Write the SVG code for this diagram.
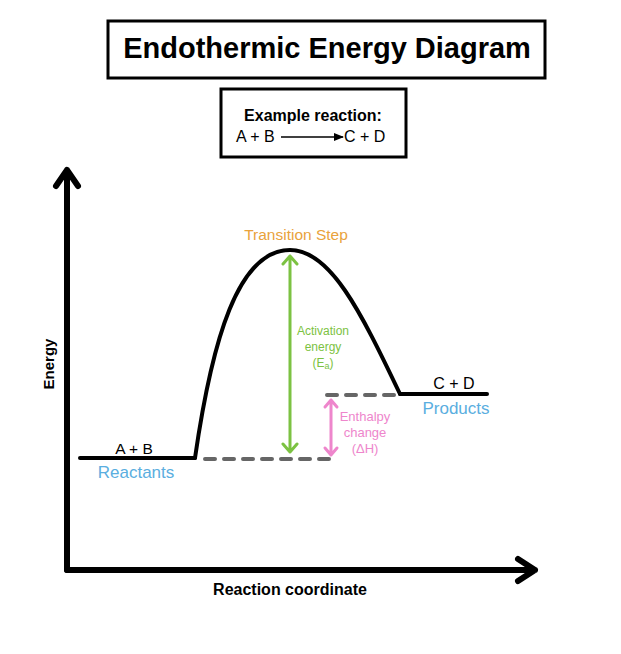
<svg xmlns="http://www.w3.org/2000/svg" width="621" height="654" viewBox="0 0 621 654">
<defs>
<style>
text{font-family:"Liberation Sans",Arial,sans-serif;}
.box{fill:#fff;stroke:#000;stroke-width:3;}
.axis{fill:none;stroke:#000;stroke-width:6;stroke-linecap:round;stroke-linejoin:round;}
.curve{fill:none;stroke:#000;stroke-width:4;stroke-linecap:round;stroke-linejoin:round;}
.dash{fill:none;stroke:#666;stroke-width:4;stroke-linecap:round;stroke-dasharray:10 9;}
.green{stroke:#7cc242;fill:none;stroke-width:3;stroke-linecap:round;stroke-linejoin:round;}
.pink{stroke:#ee86cc;fill:none;stroke-width:3;stroke-linecap:round;stroke-linejoin:round;}
</style>
<marker id="arrowSmall" viewBox="0 0 10 10" refX="9" refY="5" markerWidth="7" markerHeight="7" orient="auto"><path d="M0,1 L10,5 L0,9 z" fill="#000"/></marker>
</defs>
<rect width="621" height="654" fill="#fff"/>
<g id="title">
<rect class="box" x="108" y="21" width="437" height="57"/>
<text x="327" y="58" font-size="29" font-weight="bold" text-anchor="middle">Endothermic Energy Diagram</text>
</g>
<g id="example">
<rect class="box" x="221" y="89" width="185" height="68" stroke-width="2"/>
<text x="313" y="121" font-size="16" font-weight="bold" text-anchor="middle">Example reaction:</text>
<text x="236" y="142" font-size="16">A + B</text>
<line x1="281" y1="137" x2="343" y2="137" stroke="#000" stroke-width="1.5" marker-end="url(#arrowSmall)"/>
<text x="344" y="142" font-size="16">C + D</text>
</g>
<g id="axes">
<path class="axis" d="M67,570 L67,170 M56,186 L67,170 L78,186"/>
<path class="axis" d="M67,570 L535,570 M518,559 L535,570 L518,581"/>
<text x="54" y="364" font-size="15" font-weight="bold" text-anchor="middle" transform="rotate(-90 54 364)">Energy</text>
<text x="290" y="595" font-size="16" font-weight="bold" text-anchor="middle">Reaction coordinate</text>
</g>
<g id="reactants">
<path class="curve" d="M80,458 L195,458"/>
<text x="134" y="454" font-size="15.5" text-anchor="middle">A + B</text>
<text x="136" y="478" font-size="17" fill="#5aaee0" text-anchor="middle">Reactants</text>
</g>
<g id="transition">
<path class="curve" d="M195,458 C212,340 238,250 290,250 C330,250 360,310 400,394"/>
<text x="296" y="240" font-size="15.5" fill="#e9a23b" text-anchor="middle">Transition Step</text>
</g>
<g id="products">
<path class="curve" d="M400,394 L487,394"/>
<text x="454" y="389" font-size="16" text-anchor="middle">C + D</text>
<text x="456" y="414" font-size="17" fill="#5aaee0" text-anchor="middle">Products</text>
</g>
<g id="connectors">
<path class="dash" d="M205,459 L334,459"/>
<path class="dash" d="M327,395 L396,395"/>
<path class="green" d="M290,256 L290,452 M283,264 L290,256 L297,264 M283,444 L290,452 L297,444"/>
<path class="pink" d="M331,400 L331,455 M325,407 L331,400 L337,407 M325,448 L331,455 L337,448"/>
</g>
<g id="labels">
<text x="323" y="335" font-size="12" fill="#7cc242" text-anchor="middle">Activation</text>
<text x="323" y="351" font-size="12" fill="#7cc242" text-anchor="middle">energy</text>
<text x="323" y="367" font-size="12" fill="#7cc242" text-anchor="middle">(E<tspan font-size="9" dy="2">a</tspan><tspan dy="-2">)</tspan></text>
<text x="365" y="421" font-size="13" fill="#ee86cc" text-anchor="middle">Enthalpy</text>
<text x="365" y="437" font-size="13" fill="#ee86cc" text-anchor="middle">change</text>
<text x="365" y="453" font-size="13" fill="#ee86cc" text-anchor="middle">(ΔH)</text>
</g>
</svg>
